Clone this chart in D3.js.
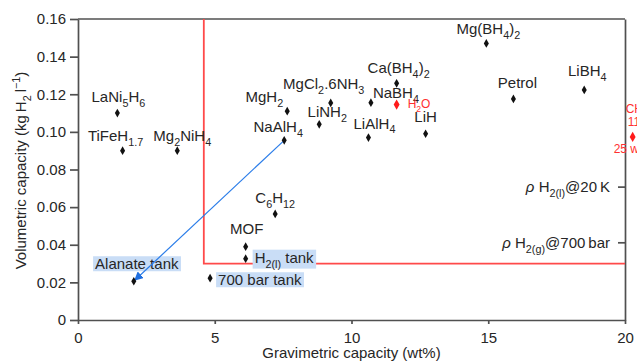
<!DOCTYPE html>
<html>
<head>
<meta charset="utf-8">
<script src="https://cdn.jsdelivr.net/npm/d3@7/dist/d3.min.js"></script>
<style>
  body { margin: 0; background: #fff; }
  svg { display: block; font-family: "Liberation Sans", Arial, sans-serif; }
</style>
</head>
<body>
<svg id="chart" width="637" height="361"></svg>
<script>
// materials: {x} = subscript, [x] = superscript
var names = ["LaNi{5}H{6}", "TiFeH{1.7}", "Mg{2}NiH{4}", "MgH{2}", "NaAlH{4}", "MgCl{2}.6NH{3}",
  "LiNH{2}", "NaBH{4}", "Ca(BH{4}){2}", "LiAlH{4}", "LiH", "Mg(BH{4}){2}", "Petrol", "LiBH{4}",
  "C{6}H{12}", "MOF", "H{2(l)} tank", "700 bar tank", "Alanate tank"];
var gravimetric = [1.44, 1.63, 3.63, 7.65, 7.54, 9.24, 8.82, 10.71, 11.65, 10.62, 12.71, 14.93, 15.92, 18.51,
  7.21, 6.13, 6.13, 4.83, 2.04];
var volumetric = [0.110, 0.090, 0.090, 0.111, 0.0955, 0.1154, 0.104, 0.1155, 0.1258, 0.097, 0.099, 0.147, 0.1175, 0.1223,
  0.0564, 0.039, 0.0326, 0.0222, 0.0206];

// reference compounds drawn in red
var refNames = ["H{2}O", "CH{4}"];
var refGravimetric = [11.65, 20.28];
var refVolumetric = [0.1145, 0.0973];

// right axis marks
var densityLabels = ["H{2(l)}@20\u2009K", "H{2(g)}@700\u2009bar"];
var densityValues = [0.0709, 0.0413];

var xTicks = [0, 5, 10, 15, 20];
var xTickLabels = ["0", "5", "10", "15", "20"];
var yTicks = [0, 0.02, 0.04, 0.06, 0.08, 0.10, 0.12, 0.14, 0.16];
var yTickLabels = ["0", "0.02", "0.04", "0.06", "0.08", "0.10", "0.12", "0.14", "0.16"];

var targetBox = [4.6, 0.03];   // [wt%, kg/l] corner of the target region

var svg = d3.select("#chart");
var margin = { top: 19, right: 12, bottom: 41, left: 78 };
var width = 637 - margin.left - margin.right;
var height = 361 - margin.top - margin.bottom;
var FS = 15;
var ink = "#262626";

var x = d3.scaleLinear().domain([0, 20]).range([0, width]);
var y = d3.scaleLinear().domain([0, 0.16]).range([height, 0]);

var g = svg.append("g").attr("transform", "translate(" + margin.left + "," + margin.top + ")");

function rich(sel, str, fs) {
  var re = /\{([^}]*)\}|\[([^\]]*)\]|([^{\[]+)/g, m, shift = 0;
  while ((m = re.exec(str)) !== null) {
    var target = 0, txt = m[3];
    if (m[1] !== undefined) { target = fs * 0.33; txt = m[1]; }
    if (m[2] !== undefined) { target = -fs * 0.4; txt = m[2]; }
    var t = sel.append("tspan").attr("dy", target - shift).text(txt);
    if (target !== 0) t.attr("font-size", fs * 0.72);
    shift = target;
  }
}

// frame top
g.append("line").attr("x1", 0).attr("x2", width).attr("y1", 0).attr("y2", 0)
  .attr("stroke", "#505050").attr("stroke-width", 1.7);

// axes
var axisColor = "#505050";
var xAxis = g.append("g").attr("transform", "translate(0," + height + ")")
  .call(d3.axisBottom(x).tickValues(xTicks).tickSize(4).tickSizeOuter(0).tickPadding(8)
    .tickFormat(function(d, i) { return xTickLabels[i]; }));
var yAxis = g.append("g")
  .call(d3.axisLeft(y).tickValues(yTicks).tickSize(8).tickSizeOuter(0).tickPadding(4)
    .tickFormat(function(d, i) { return yTickLabels[i]; }));
var rAxis = g.append("g").attr("transform", "translate(" + width + ",0)")
  .call(d3.axisLeft(y).tickValues(densityValues).tickSize(7).tickSizeOuter(0).tickFormat(""));

[xAxis, yAxis, rAxis].forEach(function(a) {
  a.selectAll("path, line").attr("stroke", axisColor).attr("stroke-width", 1.7);
  a.selectAll("text").attr("fill", ink).attr("font-size", FS).attr("font-family", null);
});

rAxis.selectAll(".tick").each(function(d, i) {
  var t = d3.select(this).append("text")
    .attr("x", -15).attr("dy", "0.32em").attr("text-anchor", "end")
    .attr("fill", ink).attr("font-size", FS);
  t.append("tspan").attr("font-style", "italic").text("\u03c1 ");
  rich(t, densityLabels[i], FS);
});

// axis titles
var xt = g.append("text").attr("x", width / 2).attr("y", height + 38)
  .attr("text-anchor", "middle").attr("fill", ink).attr("font-size", FS);
rich(xt, "Gravimetric capacity (wt%)", FS);
var yt = svg.append("text")
  .attr("transform", "translate(26," + (margin.top + height / 2 + 1) + ") rotate(-90)")
  .attr("text-anchor", "middle").attr("fill", ink).attr("font-size", FS);
rich(yt, "Volumetric capacity (kg\u2009H{2}\u2009l[\u22121])", FS);

// target region
g.append("path")
  .attr("d", "M" + x(targetBox[0]) + "," + y(0.16) + "V" + y(targetBox[1]) + "H" + x(20))
  .attr("fill", "none").attr("stroke", "#ff4a4a").attr("stroke-width", 1.8);

// arrow NaAlH4 -> Alanate tank
svg.append("defs").append("marker").attr("id", "ah")
  .attr("viewBox", "0 0 10 10").attr("refX", 9).attr("refY", 5)
  .attr("markerWidth", 9).attr("markerHeight", 9).attr("markerUnits", "userSpaceOnUse")
  .attr("orient", "auto")
  .append("path").attr("d", "M0,0L10,5L0,10z").attr("fill", "#1f6fe0");
var ia = names.indexOf("NaAlH{4}"), ib = names.indexOf("Alanate tank");
var labels = g.append("g");
g.append("line")
  .attr("x1", x(gravimetric[ia])).attr("y1", y(volumetric[ia]))
  .attr("x2", x(gravimetric[ib]) + 1).attr("y2", y(volumetric[ib]) - 1)
  .attr("stroke", "#2b7de9").attr("stroke-width", 1.2).attr("marker-end", "url(#ah)");

// label placement: [dx, dy, anchor, highlighted]
var place = {
  "LaNi{5}H{6}": [1, -11, "middle"], "TiFeH{1.7}": [-7, -10, "middle"], "Mg{2}NiH{4}": [5, -10, "middle"],
  "MgH{2}": [-4, -9, "end"], "NaAlH{4}": [-6, -8, "middle"], "MgCl{2}.6NH{3}": [-7, -14, "middle"],
  "LiNH{2}": [8, -7, "middle"], "NaBH{4}": [2, -5, "start"], "Ca(BH{4}){2}": [2, -10, "middle"],
  "LiAlH{4}": [6, -9, "middle"], "LiH": [0, -12, "middle"], "Mg(BH{4}){2}": [2, -9, "middle"],
  "Petrol": [4, -11, "middle"], "LiBH{4}": [3, -14, "middle"], "C{6}H{12}": [0, -11, "middle"],
  "MOF": [1, -13, "middle"], "H{2(l)} tank": [9, 4, "start", true], "700 bar tank": [8, 7, "start", true],
  "Alanate tank": [3, -12, "middle", true]
};

var sym = d3.symbol().type(d3.symbolDiamond);

g.selectAll(".pt").data(names).enter().append("path")
  .attr("class", "pt")
  .attr("transform", function(d, i) { return "translate(" + x(gravimetric[i]) + "," + y(volumetric[i]) + ")"; })
  .attr("d", sym.size(22)()).attr("fill", "#111");

names.forEach(function(n, i) {
  var p = place[n];
  var t = labels.append("text")
    .attr("x", x(gravimetric[i]) + p[0]).attr("y", y(volumetric[i]) + p[1])
    .attr("text-anchor", p[2]).attr("fill", ink).attr("font-size", FS);
  rich(t, n, FS);
  if (p[3]) {
    var b = t.node().getBBox();
    labels.insert("rect", ":first-child").attr("x", b.x - 2).attr("y", b.y + 1)
      .attr("width", b.width + 4).attr("height", b.height - 2).attr("fill", "#c9ddf6");
  }
});

// reference compounds
g.selectAll(".ref").data(refNames).enter().append("path")
  .attr("class", "ref")
  .attr("transform", function(d, i) { return "translate(" + x(refGravimetric[i]) + "," + y(refVolumetric[i]) + ")"; })
  .attr("d", sym.size(30)()).attr("fill", "#ff1a1a");

var red = "#ff3030";
var h2o = g.append("text").attr("x", x(refGravimetric[0]) + 11).attr("y", y(refVolumetric[0]) + 3)
  .attr("fill", red).attr("font-size", 12);
rich(h2o, refNames[0], 12);
var cx = x(refGravimetric[1]), cy = y(refVolumetric[1]);
var c1 = g.append("text").attr("x", cx - 7).attr("y", cy - 24).attr("fill", red).attr("font-size", 12);
rich(c1, refNames[1], 12);
g.append("text").attr("x", cx - 5).attr("y", cy - 11).attr("fill", red).attr("font-size", 12).text("112 kg/m\u00b3");
g.append("text").attr("x", cx - 19).attr("y", cy + 16).attr("fill", red).attr("font-size", 12).text("25 wt%");
</script>
</body>
</html>
